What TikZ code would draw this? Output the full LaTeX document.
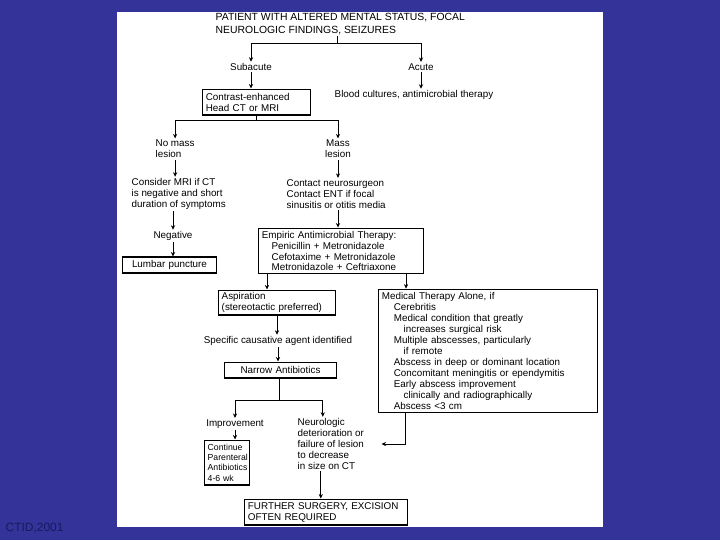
\documentclass[tikz,border=0pt]{standalone}
\usepackage{fontspec}
\setmainfont{Liberation Sans}
\usetikzlibrary{arrows.meta}
\definecolor{slideblue}{RGB}{51,51,153}
\definecolor{notenavy}{RGB}{25,25,95}

\begin{document}
\begin{tikzpicture}[x=0.025cm,y=-0.025cm,
  every node/.style={font=\fontsize{7}{7.8}\selectfont, inner sep=1pt},
  txt/.style={align=left},
  box/.style={draw, line width=0.8pt, align=left, inner xsep=2.5pt, inner ysep=1pt},
  arr/.style={line width=0.6pt, -{Stealth[length=3.2pt,width=3pt]}},
  ln/.style={line width=0.6pt}]
\fill[slideblue] (0,0) rectangle (720,540);
\fill[white] (117,12) rectangle (603,527);

% top of the chart
\node[txt, anchor=west, font=\fontsize{7.4}{8.6}\selectfont] (title) at (214,24) {PATIENT WITH ALTERED MENTAL STATUS, FOCAL\\NEUROLOGIC FINDINGS, SEIZURES};
\node (subacute) at (251,67) {Subacute};
\node (acute) at (421,67) {Acute};
\node[box, text width=72pt, minimum height=18.4pt] (ctbox) at (256.5,102) {Contrast-enhanced\\Head CT or MRI};
\node[txt, anchor=west] (blood) at (333,95) {Blood cultures, antimicrobial therapy};
\coordinate (s1) at (337,43);
\coordinate (s2) at (256.5,120);

% left branch
\node[txt, anchor=west] (nomass) at (154,149) {No mass\\lesion};
\node[txt, anchor=west] (consider) at (130,194) {Consider MRI if CT\\is negative and short\\duration of symptoms};
\node (negative) at (173,236) {Negative};
\node[box, align=center, text width=62.3pt, minimum height=11.3pt] (lumbar) at (169.5,265) {Lumbar puncture};

% right branch
\node[align=center] (mass) at (338,149) {Mass\\lesion};
\node[txt, anchor=west] (contact) at (285,194) {Contact neurosurgeon\\Contact ENT if focal\\sinusitis or otitis media};
\node[box, text width=112.6pt, minimum height=32.6pt] (empiric) at (341,251) {Empiric Antimicrobial Therapy:\\
\hspace*{7pt}Penicillin + Metronidazole\\
\hspace*{7pt}Cefotaxime + Metronidazole\\
\hspace*{7pt}Metronidazole + Ceftriaxone};
\node[box, text width=78.6pt, minimum height=17.7pt] (aspiration) at (277,302.5) {Aspiration\\(stereotactic preferred)};
\node[box, text width=150.9pt, minimum height=87.9pt] (medical) at (488,351) {Medical Therapy Alone, if\\
\hspace*{8.5pt}Cerebritis\\
\hspace*{8.5pt}Medical condition that greatly\\
\hspace*{15.5pt}increases surgical risk\\
\hspace*{8.5pt}Multiple abscesses, particularly\\
\hspace*{15.5pt}if remote\\
\hspace*{8.5pt}Abscess in deep or dominant location\\
\hspace*{8.5pt}Concomitant meningitis or ependymitis\\
\hspace*{8.5pt}Early abscess improvement\\
\hspace*{15.5pt}clinically and radiographically\\
\hspace*{8.5pt}Abscess {<}3 cm};
\node (specific) at (278,341) {Specific causative agent identified};
\node[box, align=center, text width=75pt, minimum height=11.3pt] (narrow) at (280.5,370) {Narrow Antibiotics};
\coordinate (s3) at (279,400);

% bottom of the chart
\node (improve) at (235,424) {Improvement};
\node[txt, anchor=west] (neuro) at (296,444) {Neurologic\\deterioration or\\failure of lesion\\to decrease\\in size on CT};
\node[box, font=\fontsize{6.2}{7.4}\selectfont, text width=27.5pt, minimum height=31.9pt] (continue) at (227,462.5) {Continue\\Parenteral\\Antibiotics\\4-6 wk};
\node[box, text width=111pt, minimum height=18.4pt] (further) at (326,512) {FURTHER SURGERY, EXCISION\\OFTEN REQUIRED};

\node[anchor=west, text=notenavy, font=\fontsize{8.5}{9}\selectfont] (source) at (4,528) {CTID,2001};

% connectors
\draw[ln] (title.south -| s1) -- (s1);
\draw[arr] (s1) -| (subacute);
\draw[arr] (s1) -| (acute);
\draw[arr] (subacute) -- (subacute |- ctbox.north);
\draw[arr] (acute) -- (acute |- blood.north);
\draw[ln] (ctbox.south) -- (s2);
\draw[arr] (s2) -| (nomass);
\draw[arr] (s2) -| (mass);
\draw[arr] (nomass) -- (nomass |- consider.north);
\draw[arr] (consider.south -| negative) -- (negative);
\draw[arr] (negative) -- (negative |- lumbar.north);
\draw[arr] (mass) -- (mass |- contact.north);
\draw[arr] (contact.south -| mass) -- (mass |- empiric.north);
\draw[arr] ([xshift=-1.85cm]empiric.south) -- ([xshift=-1.85cm]empiric.south |- aspiration.north);
\draw[arr] ([xshift=1.625cm]empiric.south) -- ([xshift=1.625cm]empiric.south |- medical.north);
\draw[arr] (aspiration.south) -- (aspiration.south |- specific.north);
\draw[arr] (specific) -- (specific |- narrow.north);
\draw[ln] (narrow.south -| s3) -- (s3);
\draw[arr] (s3) -| (improve);
\draw[arr] (s3) -| ([xshift=-0.2cm]neuro.north);
\draw[arr] (improve) -- (improve |- continue.north);
\draw[arr] ([xshift=-0.25cm]neuro.south) -- ([xshift=-0.25cm]neuro.south |- further.north);
\draw[arr] ([xshift=-2.075cm]medical.south) |- ([xshift=0.4cm]neuro.east);

\end{tikzpicture}
\end{document}
